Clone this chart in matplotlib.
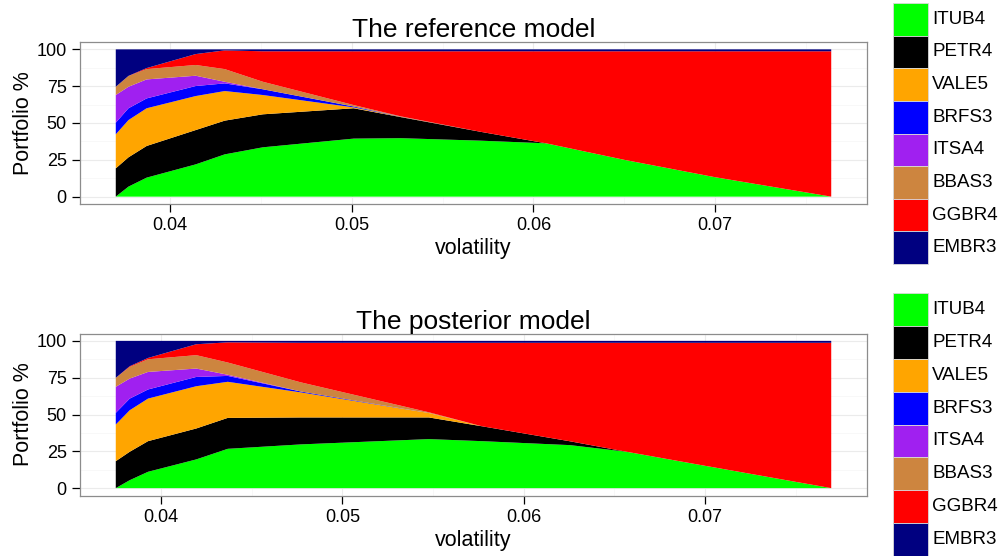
import matplotlib
matplotlib.use("Agg")
import matplotlib.pyplot as plt
from matplotlib.patches import Rectangle
from matplotlib.ticker import MultipleLocator

plt.rcParams["font.family"] = ["Liberation Sans", "DejaVu Sans"]

stocks = ["ITUB4", "PETR4", "VALE5", "BRFS3", "ITSA4", "BBAS3", "GGBR4", "EMBR3"]
colors = ["#00ff00", "#000000", "#ffa500", "#0000ff", "#a020f0", "#cd853f", "#ff0000", "#000080"]

# reference model: portfolio weights (%) along the frontier
vol_ref = [0.0370, 0.0377, 0.0387, 0.0414, 0.0430, 0.0451, 0.0501, 0.0527, 0.0571, 0.0607, 0.0650, 0.0700, 0.0764]
ref_itub4 = [0, 6.8, 12.9, 21.9, 28.7, 33.5, 39.4, 39.7, 38.0, 36.2, 25.0, 13.2, 0]
ref_petr4 = [19.2, 19.9, 21.5, 23.3, 22.9, 22.4, 20.6, 14.3, 6.0, 0, 0, 0, 0]
ref_vale5 = [23.1, 25.3, 25.6, 23.1, 20.1, 13.1, 0.6, 0.2, 0, 0, 0, 0, 0]
ref_brfs3 = [7.9, 8.0, 6.7, 6.8, 5.2, 3.9, 0.6, 0.1, 0, 0, 0, 0, 0]
ref_itsa4 = [18.8, 14.6, 12.9, 7.0, 1.1, 0, 0, 0, 0, 0, 0, 0, 0]
ref_bbas3 = [5.6, 7.3, 7.0, 7.3, 8.6, 5.1, 1.0, 0.2, 0, 0, 0, 0, 0]
ref_ggbr4 = [0, 0.1, 0.7, 7.4, 12.7, 20.7, 36.5, 44.2, 54.7, 62.5, 73.7, 85.5, 98.7]
ref_embr3 = [25.4, 18.0, 12.7, 3.2, 0.7, 1.3, 1.3, 1.3, 1.3, 1.3, 1.3, 1.3, 1.3]

# posterior model
vol_post = [0.03749, 0.03826, 0.03927, 0.04193, 0.04367, 0.04771, 0.05477, 0.05770, 0.06256, 0.06568, 0.06972, 0.07697]
post_itub4 = [0, 5.4, 11.1, 19.5, 26.7, 29.7, 33.3, 31.9, 29.2, 24.7, 15.8, 0]
post_petr4 = [18.3, 19.3, 20.8, 21.0, 21.0, 18.3, 14.7, 10.1, 2.6, 0, 0, 0]
post_vale5 = [24.9, 28.2, 28.9, 28.7, 24.5, 17.0, 3.0, 0, 0, 0, 0, 0]
post_brfs3 = [7.9, 7.9, 6.2, 6.3, 4.0, 0.6, 0, 0, 0, 0, 0, 0]
post_itsa4 = [17.7, 13.6, 11.9, 5.7, 0.8, 0, 0, 0, 0, 0, 0, 0]
post_bbas3 = [6.1, 7.9, 8.6, 9.1, 8.3, 6.2, 0.5, 0, 0, 0, 0, 0]
post_ggbr4 = [0, 0.5, 0.9, 7.4, 13.7, 26.9, 47.2, 56.7, 66.9, 74.0, 82.9, 98.7]
post_embr3 = [25.1, 17.2, 11.6, 2.3, 1.0, 1.3, 1.3, 1.3, 1.3, 1.3, 1.3, 1.3]

ref_weights = [ref_itub4, ref_petr4, ref_vale5, ref_brfs3, ref_itsa4, ref_bbas3, ref_ggbr4, ref_embr3]
post_weights = [post_itub4, post_petr4, post_vale5, post_brfs3, post_itsa4, post_bbas3, post_ggbr4, post_embr3]

W, H = 999, 556
fig = plt.figure(figsize=(W / 100, H / 100), dpi=100)


def draw_panel(rect, vol, weights, title):
    ax = fig.add_axes(rect)
    ax.stackplot(vol, *weights, colors=colors, linewidth=0, zorder=3)
    span = vol[-1] - vol[0]
    ax.set_xlim(vol[0] - 0.05 * span, vol[-1] + 0.05 * span)
    ax.set_ylim(-5, 105)
    ax.xaxis.set_minor_locator(MultipleLocator(0.005))
    ax.yaxis.set_major_locator(MultipleLocator(25))
    ax.yaxis.set_minor_locator(MultipleLocator(12.5))
    ax.set_xticks([0.04, 0.05, 0.06, 0.07])
    ax.set_xticklabels(["0.04", "0.05", "0.06", "0.07"])
    ax.grid(True, which="major", color="#ebebeb", linewidth=0.8, zorder=0)
    ax.grid(True, which="minor", color="#f7f7f7", linewidth=0.6, zorder=0)
    ax.set_axisbelow(True)
    ax.tick_params(which="major", length=5.5, width=0.9, color="black",
                   labelsize=13, labelcolor="black", pad=4)
    ax.tick_params(which="minor", length=0)
    for s in ax.spines.values():
        s.set_color("#8c8c8c")
        s.set_linewidth(0.9)
    ax.set_title(title, fontsize=19, pad=3)
    ax.set_xlabel("volatility", fontsize=15.5, labelpad=3)
    ax.set_ylabel("Portfolio %", fontsize=15.5, labelpad=2)
    return ax


def draw_legend(top_px, bottom_px):
    step = (bottom_px - top_px) / len(stocks)
    x0, kw = 893, 35
    for i, (name, c) in enumerate(zip(stocks, colors)):
        y_top = top_px + i * step
        fig.patches.append(Rectangle((x0 / W, 1 - (y_top + step) / H), kw / W, step / H,
                                     transform=fig.transFigure, facecolor=c,
                                     edgecolor="#d9d9d9", linewidth=0.6))
        fig.text(932 / W, 1 - (y_top + step / 2) / H, name, fontsize=13.5,
                 ha="left", va="center")


left, width = 80 / W, 787 / W
draw_panel([left, 1 - 204 / H, width, 162 / H], vol_ref, ref_weights, "The reference model")
draw_panel([left, 1 - 495.5 / H, width, 162 / H], vol_post, post_weights, "The posterior model")
draw_legend(3, 264)
draw_legend(293, 556)

fig.savefig("out.png", dpi=100)
